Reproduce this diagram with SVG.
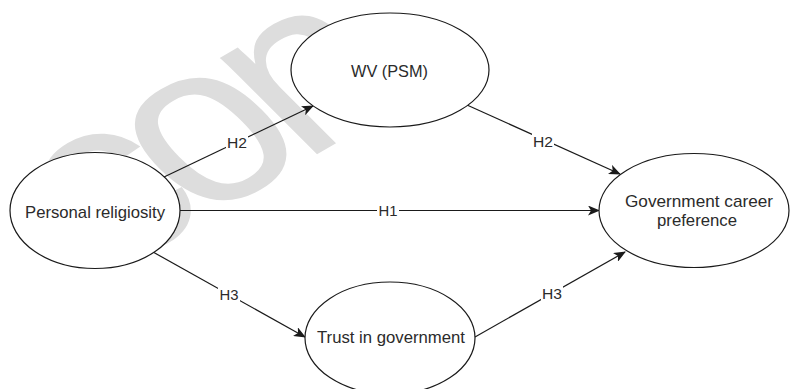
<svg xmlns="http://www.w3.org/2000/svg" width="790" height="389" viewBox="0 0 790 389">
  <style>
    .node { fill: #ffffff; stroke: #1a1a1a; stroke-width: 1.2; }
    .label { font-family: "Liberation Sans", Arial, sans-serif; font-size: 17px; fill: #2b2b2b; text-anchor: middle; }
    .edge { stroke: #1a1a1a; stroke-width: 1.2; fill: none; }
    .elabel { font-family: "Liberation Sans", Arial, sans-serif; font-size: 15px; fill: #2b2b2b; text-anchor: middle; }
    .lbg { fill: #ffffff; }
    .wm { font-family: "Liberation Sans", Arial, sans-serif; font-size: 250px; fill: #dddddd; letter-spacing: -20px; }
  </style>
  <defs>
    <marker id="arrow" viewBox="0 0 12 10" refX="11" refY="5" markerWidth="12" markerHeight="10" markerUnits="userSpaceOnUse" orient="auto">
      <path d="M0,0 L12,5 L0,10 L3,5 z" fill="#1a1a1a"/>
    </marker>
  </defs>
  <rect x="0" y="0" width="790" height="389" fill="#ffffff"/>
  <text class="wm" transform="translate(108,275) rotate(-30) skewX(15)">con</text>

  <g id="connectors">
    <g id="e-h2a">
      <line class="edge" x1="164" y1="177" x2="313" y2="106" marker-end="url(#arrow)"/>
      <rect class="lbg" x="226" y="134" width="22" height="16"/>
      <text class="elabel" x="237" y="148" textLength="20" lengthAdjust="spacingAndGlyphs">H2</text>
    </g>
    <g id="e-h2b">
      <line class="edge" x1="467" y1="105" x2="620" y2="174" marker-end="url(#arrow)"/>
      <rect class="lbg" x="532" y="133" width="22" height="16"/>
      <text class="elabel" x="543" y="147" textLength="20" lengthAdjust="spacingAndGlyphs">H2</text>
    </g>
    <g id="e-h1">
      <line class="edge" x1="180" y1="210.5" x2="599" y2="210.5" marker-end="url(#arrow)"/>
      <rect class="lbg" x="377" y="202" width="22" height="16"/>
      <text class="elabel" x="388" y="216" textLength="19" lengthAdjust="spacingAndGlyphs">H1</text>
    </g>
    <g id="e-h3a">
      <line class="edge" x1="153" y1="252" x2="305" y2="337" marker-end="url(#arrow)"/>
      <rect class="lbg" x="218" y="286" width="22" height="16"/>
      <text class="elabel" x="229" y="300" textLength="19" lengthAdjust="spacingAndGlyphs">H3</text>
    </g>
    <g id="e-h3b">
      <line class="edge" x1="475" y1="337" x2="625" y2="252" marker-end="url(#arrow)"/>
      <rect class="lbg" x="541" y="285" width="22" height="16"/>
      <text class="elabel" x="552" y="299" textLength="20" lengthAdjust="spacingAndGlyphs">H3</text>
    </g>
  </g>

  <g id="node-religiosity">
    <ellipse class="node" cx="95" cy="210.5" rx="85" ry="58"/>
    <text class="label" x="95" y="218" textLength="140" lengthAdjust="spacingAndGlyphs">Personal religiosity</text>
  </g>
  <g id="node-wv">
    <ellipse class="node" cx="390" cy="70" rx="99" ry="57"/>
    <text class="label" x="389.5" y="77" textLength="77" lengthAdjust="spacingAndGlyphs">WV (PSM)</text>
  </g>
  <g id="node-gov">
    <ellipse class="node" cx="694" cy="210.5" rx="95" ry="57"/>
    <text class="label" x="699" y="207" textLength="148" lengthAdjust="spacingAndGlyphs">Government career</text>
    <text class="label" x="697" y="226" textLength="80" lengthAdjust="spacingAndGlyphs">preference</text>
  </g>
  <g id="node-trust">
    <ellipse class="node" cx="390" cy="338" rx="85" ry="56"/>
    <text class="label" x="391" y="343" textLength="148" lengthAdjust="spacingAndGlyphs">Trust in government</text>
  </g>
</svg>
